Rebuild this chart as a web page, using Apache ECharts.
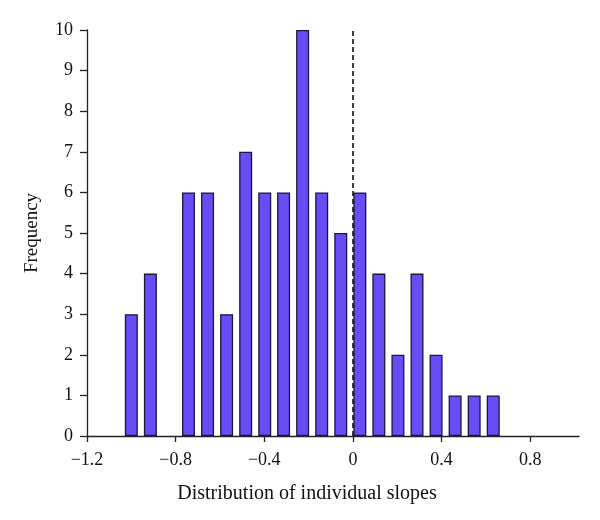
<!DOCTYPE html>
<html>
<head>
<meta charset="utf-8">
<script src="https://cdn.jsdelivr.net/npm/echarts@6/dist/echarts.min.js"></script>
<style>html,body{margin:0;padding:0;background:#fff;}#c{width:600px;height:520px;}</style>
</head>
<body>
<div id="c"></div>
<script>
const binCenters = [-1.000, -0.914, -0.828, -0.742, -0.656, -0.570, -0.484, -0.398, -0.313, -0.227,
                    -0.141, -0.055, 0.031, 0.117, 0.203, 0.289, 0.375, 0.461, 0.547, 0.633];
const frequencies = [3, 4, 0, 6, 6, 3, 7, 6, 6, 10, 6, 5, 6, 4, 2, 4, 2, 1, 1, 1];
const xTicks = [-1.2, -0.8, -0.4, 0, 0.4, 0.8];
const yTicks = [0, 1, 2, 3, 4, 5, 6, 7, 8, 9, 10];
const refLine = 0;

const fontFam = '"Liberation Serif", "DejaVu Serif", serif';
const chart = echarts.init(document.getElementById('c'), null, {renderer: 'canvas'});
const fmt = v => (v < 0 ? '\u2212' + String(Math.abs(v)) : String(v));

chart.setOption({
  animation: false,
  backgroundColor: '#fff',
  grid: {left: 87, right: 21, top: 30, bottom: 84, containLabel: false},
  xAxis: {
    type: 'value', min: -1.2, max: 1.02,
    name: 'Distribution of individual slopes', nameLocation: 'middle', nameGap: 48,
    nameTextStyle: {fontFamily: fontFam, fontSize: 20, color: '#111', padding: [0, 52, 0, 0]},
    splitLine: {show: false},
    axisLine: {show: true, onZero: false, lineStyle: {color: '#222', width: 1.3}},
    axisTick: {show: true, length: 6, inside: false, customValues: xTicks, lineStyle: {color: '#222', width: 1.3}},
    axisLabel: {customValues: xTicks, formatter: fmt, fontFamily: fontFam, fontSize: 18, color: '#111', margin: 15}
  },
  yAxis: {
    type: 'value', min: 0, max: 10, interval: 1,
    name: 'Frequency', nameLocation: 'middle', nameGap: 45, nameRotate: 90,
    nameTextStyle: {fontFamily: fontFam, fontSize: 19, color: '#111'},
    splitLine: {show: false},
    axisLine: {show: true, onZero: false, lineStyle: {color: '#222', width: 1.3}},
    axisTick: {show: true, length: 7, inside: false, customValues: yTicks, lineStyle: {color: '#222', width: 1.3}},
    axisLabel: {customValues: yTicks, fontFamily: fontFam, fontSize: 18, color: '#111', margin: 14}
  },
  series: [{
    type: 'bar',
    data: binCenters.map((c, i) => [c, frequencies[i] === 0 ? '-' : frequencies[i]]),
    barWidth: 13,
    itemStyle: {color: '#6a4cf6', borderColor: '#1c1540', borderWidth: 1.3},
    markLine: {
      silent: true, symbol: 'none', label: {show: false},
      lineStyle: {type: [5, 3], color: '#111', width: 1.6},
      data: [{xAxis: refLine}]
    }
  }]
});
</script>
</body>
</html>
